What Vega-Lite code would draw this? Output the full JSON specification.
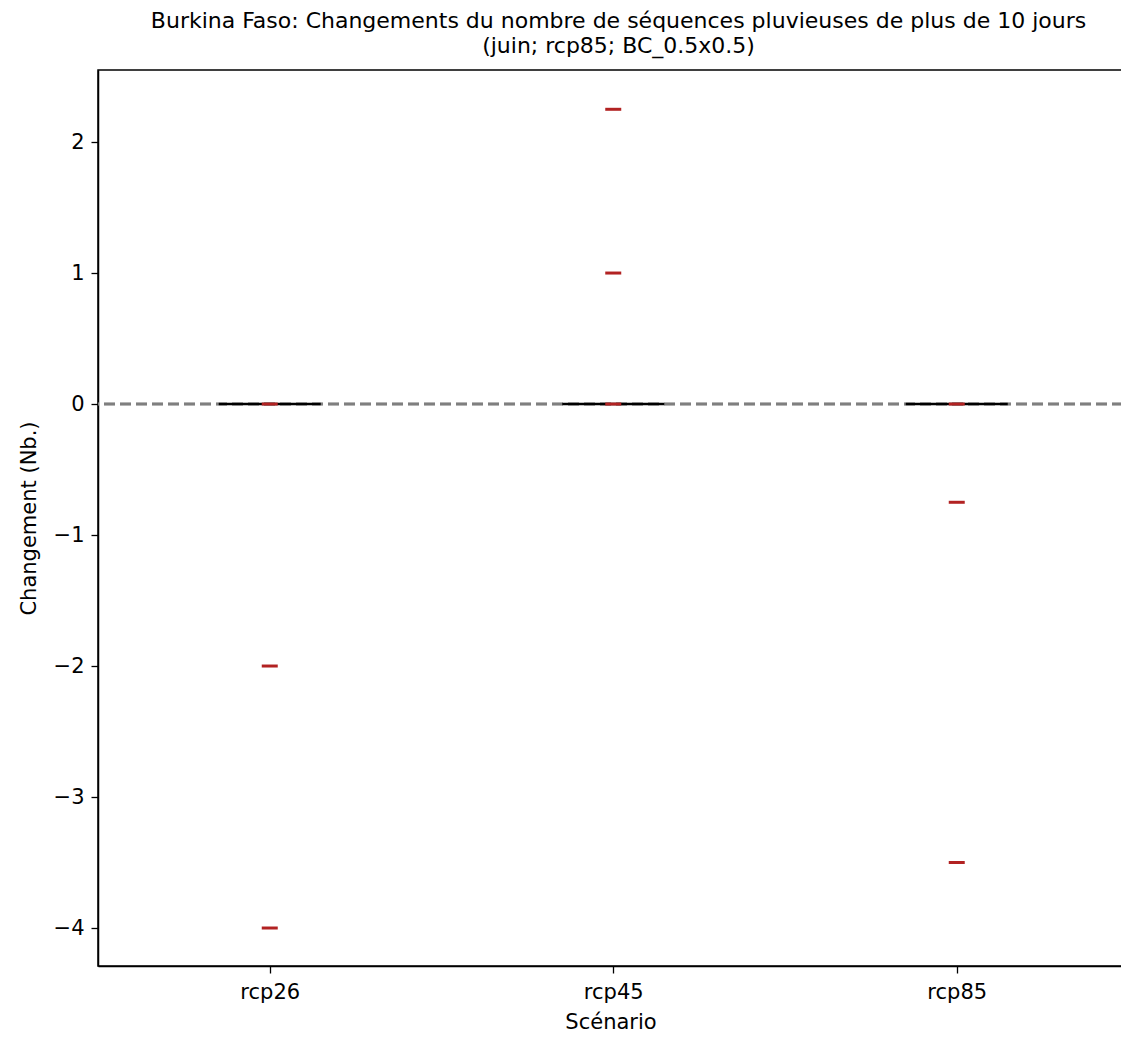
{
  "$schema": "https://vega.github.io/schema/vega-lite/v6.json",
  "width": 1025,
  "height": 896,
  "autosize": {"type": "none"},
  "padding": {"left": 98, "top": 70, "right": 0, "bottom": 72},
  "background": "white",
  "config": {
    "font": "DejaVu Sans",
    "view": {"stroke": "black", "strokeWidth": 1.5},
    "axis": {"grid": false, "domainColor": "black", "domainWidth": 1.5, "tickColor": "black", "tickSize": 7, "tickWidth": 1.3, "labelFont": "DejaVu Sans", "labelFontSize": 21, "labelColor": "black", "titleFont": "DejaVu Sans", "titleFontSize": 21, "titleFontWeight": "normal", "titleColor": "black", "labelPadding": 7}
  },
  "title": {
    "text": ["Burkina Faso: Changements du nombre de séquences pluvieuses de plus de 10 jours", "(juin; rcp85; BC_0.5x0.5)"],
    "font": "DejaVu Sans",
    "fontSize": 22,
    "fontWeight": "normal",
    "color": "black",
    "anchor": "middle",
    "dx": 8,
    "offset": 12,
    "lineHeight": 25
  },
  "datasets": {
    "box": [
      {"pos": 1, "scenario": "rcp26", "median": 0},
      {"pos": 2, "scenario": "rcp45", "median": 0},
      {"pos": 3, "scenario": "rcp85", "median": 0}
    ],
    "points": [
      {"pos": 1, "scenario": "rcp26", "value": 0},
      {"pos": 1, "scenario": "rcp26", "value": -2},
      {"pos": 1, "scenario": "rcp26", "value": -4},
      {"pos": 2, "scenario": "rcp45", "value": 0},
      {"pos": 2, "scenario": "rcp45", "value": 1},
      {"pos": 2, "scenario": "rcp45", "value": 2.25},
      {"pos": 3, "scenario": "rcp85", "value": 0},
      {"pos": 3, "scenario": "rcp85", "value": -0.75},
      {"pos": 3, "scenario": "rcp85", "value": -3.5}
    ]
  },
  "layer": [
    {
      "data": {"name": "box"},
      "mark": {"type": "rule", "color": "#7f7f7f", "strokeWidth": 2.5, "strokeDash": [11, 5]},
      "encoding": {"y": {"datum": 0, "type": "quantitative"}}
    },
    {
      "data": {"name": "box"},
      "mark": {"type": "tick", "orient": "horizontal", "color": "black", "opacity": 1, "size": 102, "thickness": 2.5},
      "encoding": {
        "x": {"field": "pos", "type": "quantitative", "scale": {"domain": [0.5, 3.484], "nice": false, "zero": false},
          "axis": {"values": [1, 2, 3], "labelExpr": "datum.value == 1 ? 'rcp26' : datum.value == 2 ? 'rcp45' : 'rcp85'", "title": "Scénario", "titlePadding": 9, "labelPadding": 8}},
        "y": {"field": "median", "type": "quantitative", "scale": {"domain": [-4.29, 2.55], "nice": false, "zero": false},
          "axis": {"values": [-4, -3, -2, -1, 0, 1, 2], "format": "d", "title": "Changement (Nb.)", "titlePadding": 14}}
      }
    },
    {
      "data": {"name": "points"},
      "mark": {"type": "tick", "orient": "horizontal", "color": "#b22222", "opacity": 1, "size": 16, "thickness": 3},
      "encoding": {
        "x": {"field": "pos", "type": "quantitative"},
        "y": {"field": "value", "type": "quantitative"}
      }
    }
  ]
}
